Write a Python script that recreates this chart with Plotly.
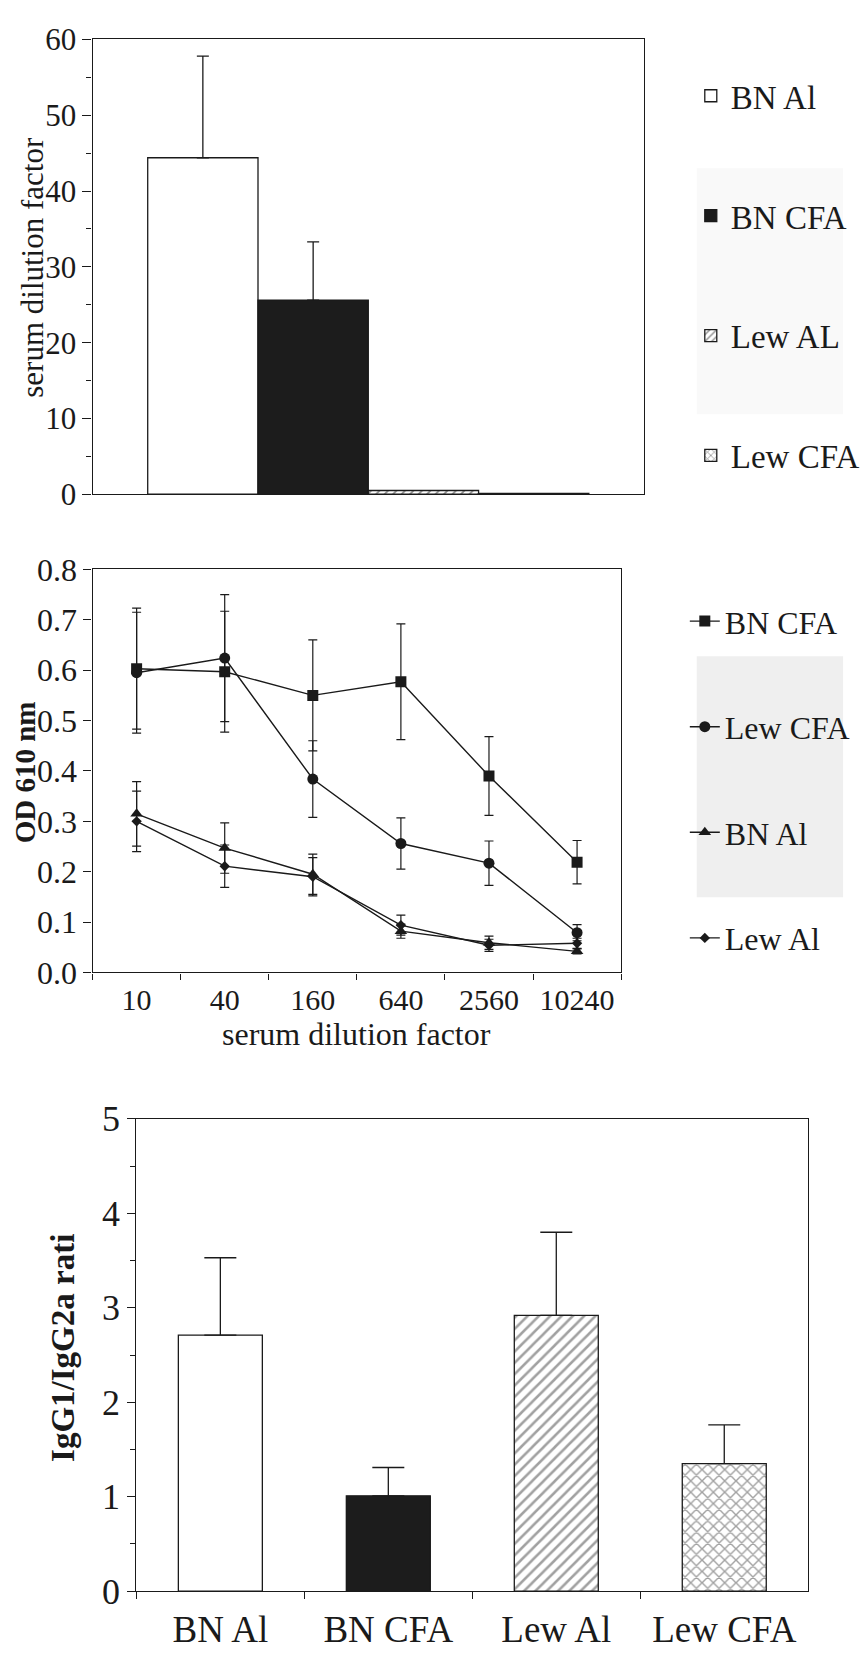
import plotly.graph_objects as go

W, H = 865, 1662
FONT = "Liberation Serif"
INK = "#1a1a1a"

# ---------------- Panel A data (bar, serum dilution factor) ----------------
groupsA = ["BN Al", "BN CFA", "Lew AL", "Lew CFA"]
valsA = [44.4, 25.6, 0.5, 0.1]
errA = [13.4, 7.7, 0.0, 0.0]

# ---------------- Panel B data (OD 610 nm) ----------------
dilution = ["10", "40", "160", "640", "2560", "10240"]
bn_cfa = [0.603, 0.597, 0.550, 0.577, 0.390, 0.219]
bn_cfa_err = [0.120, 0.120, 0.110, 0.115, 0.078, 0.043]
lew_cfa = [0.595, 0.624, 0.384, 0.256, 0.217, 0.079]
lew_cfa_err = [0.120, 0.126, 0.076, 0.051, 0.044, 0.016]
bn_al = [0.315, 0.247, 0.195, 0.082, 0.059, 0.042]
bn_al_err = [0.064, 0.050, 0.040, 0.014, 0.013, 0.005]
lew_al = [0.300, 0.211, 0.190, 0.094, 0.054, 0.058]
lew_al_err = [0.060, 0.042, 0.038, 0.020, 0.012, 0.010]

# ---------------- Panel C data (IgG1/IgG2a ratio) ----------------
groupsC = ["BN Al", "BN CFA", "Lew Al", "Lew CFA"]
valsC = [2.71, 1.01, 2.92, 1.35]
errC = [0.82, 0.30, 0.88, 0.41]


def px_x(x):
    return x / W


def px_y(y):
    return 1 - y / H


fig = go.Figure()

# ---- Panel A bars ----
fillsA = ["white", "#1c1c1c", "white", "white"]
shapesA = ["", "", "/", "x"]
for i, g in enumerate(groupsA):
    fig.add_trace(go.Bar(
        x=["A"], y=[valsA[i]], name=g,
        xaxis="x", yaxis="y",
        marker=dict(color=fillsA[i], line=dict(color=INK, width=1.3),
                    pattern=dict(shape=shapesA[i], fgcolor=INK, bgcolor="white",
                                 size=6, solidity=0.3)),
        error_y=dict(type="data", symmetric=False, array=[errA[i]], arrayminus=[0],
                     color=INK, thickness=1.3, width=6, visible=errA[i] > 0),
        legend="legend", legendgroup="a%d" % i,
    ))

# ---- Panel B lines ----
seriesB = [
    ("BN CFA", bn_cfa, bn_cfa_err, "square", 11),
    ("Lew CFA", lew_cfa, lew_cfa_err, "circle", 11),
    ("BN Al", bn_al, bn_al_err, "triangle-up", 11),
    ("Lew Al", lew_al, lew_al_err, "diamond", 8),
]
for j, (nm, ys, es, sym, sz) in enumerate(seriesB):
    fig.add_trace(go.Scatter(
        x=dilution, y=ys, name=nm, mode="lines+markers",
        xaxis="x2", yaxis="y2",
        line=dict(color=INK, width=1.4),
        marker=dict(symbol=sym, size=sz, color=INK),
        error_y=dict(type="data", array=es, color=INK, thickness=1.2, width=4.5),
        legend="legend2", legendgroup="b%d" % j,
    ))

# ---- Panel C bars ----
fig.add_trace(go.Bar(
    x=groupsC, y=valsC, xaxis="x3", yaxis="y3", width=0.5, showlegend=False,
    marker=dict(color=["white", "#1c1c1c", "white", "white"],
                line=dict(color=INK, width=1.3),
                pattern=dict(shape=["", "", "/", "x"], fgcolor=INK, bgcolor="white",
                             size=8, solidity=0.32)),
    error_y=dict(type="data", symmetric=False, array=errC, arrayminus=[0] * 4,
                 color=INK, thickness=1.3, width=16),
))


def tf(size):
    return dict(family=FONT, color=INK, size=size)


axis_common = dict(showline=True, linecolor=INK, linewidth=1.3, mirror=True,
                   showgrid=False, zeroline=False, tickcolor=INK)

# faint scan-through patches visible in the background of the page
bg_shapes = [
    dict(type="rect", xref="paper", yref="paper", layer="below",
         x0=px_x(700), x1=px_x(847), y0=px_y(900), y1=px_y(653),
         fillcolor="#efefef", line=dict(width=0)),
    dict(type="rect", xref="paper", yref="paper", layer="below",
         x0=px_x(700), x1=px_x(847), y0=px_y(405), y1=px_y(153),
         fillcolor="#f9f9f9", line=dict(width=0)),
]

layout = dict(
    width=W, height=H, margin=dict(l=0, r=0, t=0, b=0),
    paper_bgcolor="white", plot_bgcolor="rgba(0,0,0,0)",
    barmode="group", bargap=0.2, bargroupgap=0,
    font=dict(family=FONT, color=INK),
    # Panel A
    xaxis=dict(domain=[px_x(93), px_x(647)], anchor="y", showticklabels=False,
               ticks="", tickfont=tf(31), **axis_common),
    yaxis=dict(domain=[px_y(487), px_y(21)], anchor="x", range=[0, 60], dtick=10,
               ticks="outside", ticklen=9, tickwidth=1.2, tickfont=tf(31),
               minor=dict(dtick=5, ticks="outside", ticklen=5, tickcolor=INK),
               **axis_common),
    # Panel B
    xaxis2=dict(domain=[px_x(93), px_x(624)], anchor="y2", type="category",
                range=[-0.5, 5.5], tickson="boundaries", ticks="outside", ticklen=6,
                tickwidth=1.2, tickfont=tf(30), **axis_common),
    yaxis2=dict(domain=[px_y(977), px_y(564)], anchor="x2", range=[0, 0.8], dtick=0.1,
                ticks="outside", ticklen=8, tickwidth=1.2, tickformat=".1f",
                tickfont=tf(32), **axis_common),
    # Panel C
    xaxis3=dict(domain=[px_x(137), px_x(812)], anchor="y3", type="category",
                tickson="boundaries", ticks="outside", ticklen=7, tickwidth=1.2,
                tickfont=tf(37), ticklabelstandoff=5, **axis_common),
    yaxis3=dict(domain=[px_y(1611), px_y(1127)], anchor="x3", range=[0, 5], dtick=1,
                ticks="outside", ticklen=8, tickwidth=1.2, tickfont=tf(36),
                minor=dict(dtick=0.5, ticks="outside", ticklen=5, tickcolor=INK),
                **axis_common),
    legend=dict(x=px_x(694), y=px_y(50), xanchor="left", yanchor="top",
                font=tf(33), tracegroupgap=74,
                bgcolor="rgba(0,0,0,0)", traceorder="grouped"),
    legend2=dict(x=px_x(688), y=px_y(589), xanchor="left", yanchor="top",
                 font=tf(32), tracegroupgap=61,
                 bgcolor="rgba(0,0,0,0)", traceorder="grouped"),
    shapes=bg_shapes,
    annotations=[
        dict(text="serum dilution factor", x=px_x(33), y=px_y(254), xref="paper",
             yref="paper", textangle=-90, showarrow=False, xanchor="center",
             yanchor="middle", font=tf(31)),
        dict(text="<b>OD 610 nm</b>", x=px_x(26), y=px_y(772), xref="paper",
             yref="paper", textangle=-90, showarrow=False, xanchor="center",
             yanchor="middle", font=tf(29)),
        dict(text="serum dilution factor", x=px_x(358), y=px_y(1040), xref="paper",
             yref="paper", showarrow=False, xanchor="center", yanchor="middle",
             font=tf(32)),
        dict(text="<b>IgG1/IgG2a rati</b>", x=px_x(64), y=px_y(1362), xref="paper",
             yref="paper", textangle=-90, showarrow=False, xanchor="center",
             yanchor="middle", font=tf(33)),
    ],
)
fig.update_layout(**layout)

fig.write_html("out.html")
